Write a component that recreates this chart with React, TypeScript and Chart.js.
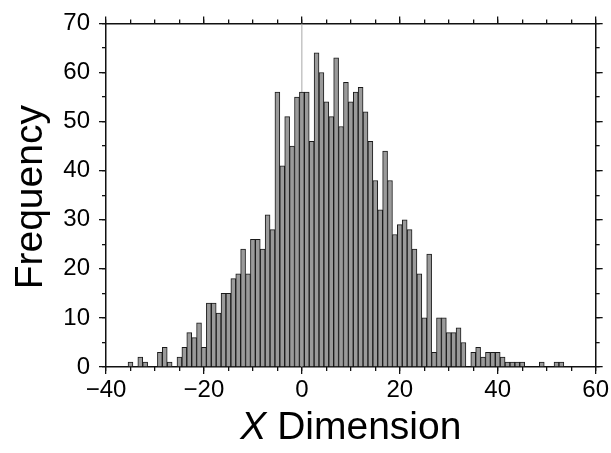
import React, { useEffect, useRef } from 'react';
import { Chart, registerables } from 'chart.js';

Chart.register(...registerables);

// Histogram bin centres (bin width 1) and counts
const binCenters = [
  -35, -34, -33, -32, -31, -30, -29, -28, -27, -26,
  -25, -24, -23, -22, -21, -20, -19, -18, -17, -16,
  -15, -14, -13, -12, -11, -10, -9, -8, -7, -6,
  -5, -4, -3, -2, -1, 0, 1, 2, 3, 4,
  5, 6, 7, 8, 9, 10, 11, 12, 13, 14,
  15, 16, 17, 18, 19, 20, 21, 22, 23, 24,
  25, 26, 27, 28, 29, 30, 31, 32, 33, 34,
  35, 36, 37, 38, 39, 40, 41, 42, 43, 44,
  45, 46, 47, 48, 49, 50, 51, 52, 53,
];
const frequencies = [
  1, 0, 2, 1, 0, 0, 3, 4, 1, 0,
  2, 4, 7, 6, 9, 4, 13, 13, 11, 15,
  15, 18, 19, 24, 19, 26, 26, 24, 31, 28,
  56, 41, 51, 45, 55, 56, 56, 46, 64, 60,
  54, 51, 63, 49, 58, 54, 56, 57, 52, 46,
  38, 32, 44, 38, 27, 29, 30, 28, 24, 19,
  10, 23, 3, 10, 10, 7, 7, 8, 5, 0,
  3, 4, 2, 3, 3, 3, 2, 1, 1, 1,
  1, 0, 0, 0, 1, 0, 0, 1, 1,
];

// Reference line at x = 0
const zeroLineX = [0, 0];
const zeroLineY = [0, 70];

const xRange = [-40, 60];
const yRange = [0, 70];
const xMajorStep = 20;
const xMinorStep = 5;
const yMajorStep = 10;
const yMinorStep = 5;

const xTitleVariable = 'X';
const xTitleRest = ' Dimension';
const yTitle = 'Frequency';

const FONT = '"Liberation Sans", Arial, Helvetica, sans-serif';
const AXIS_COLOR = '#111';

const fmt = (v: number | string) => {
  const n = Number(v);
  return n < 0 ? '\u2212' + Math.abs(n) : String(n);
};

function scale(opts: any) {
  const {
    position, min, max, step, tickLength, labels, weight, size, border,
  } = opts;
  return {
    type: 'linear',
    position,
    min,
    max,
    weight,
    offset: false,
    grace: 0,
    ticks: {
      display: labels,
      stepSize: step,
      autoSkip: false,
      maxRotation: 0,
      includeBounds: true,
      padding: position === 'left' ? 9 : 2,
      color: '#000',
      font: { family: FONT, size: 24 },
      callback: fmt,
    },
    grid: {
      display: true,
      offset: false,
      drawOnChartArea: false,
      drawTicks: true,
      tickLength,
      color: AXIS_COLOR,
      lineWidth: 1.3,
    },
    border: { display: border, color: AXIS_COLOR, width: 1.5 },
    afterFit: (s: any) => {
      if (position === 'left' || position === 'right') s.width = size;
      else s.height = size;
    },
  };
}

const titlesPlugin = {
  id: 'customTitles',
  afterDraw(chart: any) {
    const { ctx, chartArea } = chart;
    const { left, right, top, bottom } = chartArea;
    ctx.save();
    ctx.fillStyle = '#000';
    ctx.textBaseline = 'alphabetic';
    const base = `39px ${FONT}`;
    const ital = `italic 39px ${FONT}`;
    ctx.font = ital;
    const w1 = ctx.measureText(xTitleVariable).width;
    ctx.font = base;
    const w2 = ctx.measureText(xTitleRest).width;
    const sx = (left + right) / 2 - (w1 + w2) / 2;
    ctx.textAlign = 'left';
    ctx.font = ital;
    ctx.fillText(xTitleVariable, sx, 439);
    ctx.font = base;
    ctx.fillText(xTitleRest, sx + w1, 439);

    ctx.translate(42, (top + bottom) / 2 + 2);
    ctx.rotate(-Math.PI / 2);
    ctx.textAlign = 'center';
    ctx.font = base;
    ctx.fillText(yTitle, 0, 0);
    ctx.restore();
  },
};

export default function App() {
  const ref = useRef<HTMLCanvasElement | null>(null);

  useEffect(() => {
    if (!ref.current) return;
    const chart = new Chart(ref.current, {
      type: 'bar',
      data: {
        datasets: [
          {
            type: 'bar',
            label: 'Frequency',
            data: binCenters.map((x, i) => ({ x, y: frequencies[i] })),
            backgroundColor: '#9a9a9a',
            borderColor: '#1a1a1a',
            borderWidth: 1,
            barPercentage: 1,
            categoryPercentage: 1,
            xAxisID: 'x',
            yAxisID: 'y',
            order: 1,
          } as any,
          {
            type: 'line',
            label: 'zero',
            data: zeroLineX.map((x, i) => ({ x, y: zeroLineY[i] })),
            borderColor: '#a8a8a8',
            borderWidth: 1,
            pointRadius: 0,
            fill: false,
            xAxisID: 'x',
            yAxisID: 'y',
            order: 2,
          } as any,
        ],
      },
      options: {
        responsive: false,
        animation: false,
        devicePixelRatio: 1,
        layout: { padding: 0 },
        plugins: {
          legend: { display: false },
          tooltip: { enabled: false },
          title: { display: false },
        },
        scales: {
          x: scale({ position: 'bottom', min: xRange[0], max: xRange[1], step: xMajorStep, tickLength: 7, labels: true, weight: 1, size: 86, border: true }),
          xMinor: scale({ position: 'bottom', min: xRange[0], max: xRange[1], step: xMinorStep, tickLength: 4, labels: false, weight: 0, size: 0, border: false }),
          xTop: scale({ position: 'top', min: xRange[0], max: xRange[1], step: xMajorStep, tickLength: 7, labels: false, weight: 1, size: 17, border: true }),
          xTopMinor: scale({ position: 'top', min: xRange[0], max: xRange[1], step: xMinorStep, tickLength: 4, labels: false, weight: 0, size: 0, border: false }),
          y: scale({ position: 'left', min: yRange[0], max: yRange[1], step: yMajorStep, tickLength: 7, labels: true, weight: 1, size: 106, border: true }),
          yMinor: scale({ position: 'left', min: yRange[0], max: yRange[1], step: yMinorStep, tickLength: 4, labels: false, weight: 0, size: 0, border: false }),
          yRight: scale({ position: 'right', min: yRange[0], max: yRange[1], step: yMajorStep, tickLength: 7, labels: false, weight: 1, size: 15, border: true }),
          yRightMinor: scale({ position: 'right', min: yRange[0], max: yRange[1], step: yMinorStep, tickLength: 4, labels: false, weight: 0, size: 0, border: false }),
        } as any,
      },
      plugins: [titlesPlugin],
    });
    return () => chart.destroy();
  }, []);

  return (
    <div style={{ position: 'absolute', left: 0, top: 0, width: 611, height: 453, background: '#fff' }}>
      <canvas ref={ref} width={611} height={453} />
    </div>
  );
}
